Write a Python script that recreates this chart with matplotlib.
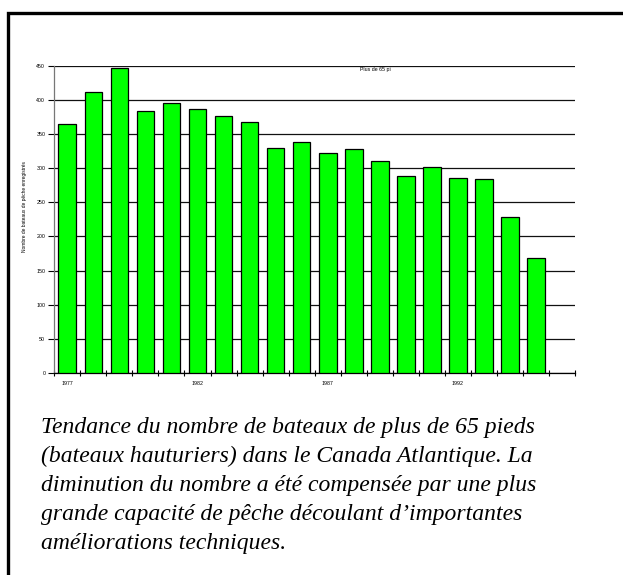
import matplotlib.pyplot as plt
from matplotlib.patches import Rectangle
from matplotlib.ticker import FixedLocator

# --- data ---
years = list(range(1977, 1997))
boats = [365, 411, 447, 384, 395, 386, 377, 367, 330, 338,
         322, 328, 310, 289, 302, 285, 284, 228, 168, None]
tick_years = [1977, 1982, 1987, 1992]
y_ticks = [0, 50, 100, 150, 200, 250, 300, 350, 400, 450]

caption = ("Tendance du nombre de bateaux de plus de 65 pieds\n"
           "(bateaux hauturiers) dans le Canada Atlantique. La\n"
           "diminution du nombre a été compensée par une plus\n"
           "grande capacité de pêche découlant d\u2019importantes\n"
           "améliorations techniques.")

W, H = 623, 575
fig = plt.figure(figsize=(W / 100, H / 100), dpi=100)

# outer frame (runs off right and bottom edges)
fig.patches.append(Rectangle((8 / W, -0.1), 1.2, 1 - 13 / H + 0.1,
                             transform=fig.transFigure, fill=False,
                             edgecolor='black', linewidth=2.4))

ax = fig.add_axes([54.3 / W, 1 - 373 / H, (575 - 54.3) / W, (373 - 65.7) / H])

xs = [i for i, v in enumerate(boats) if v is not None]
vals = [v for v in boats if v is not None]
ax.bar(xs, vals, width=0.68, color='#00FF00', edgecolor='black',
       linewidth=0.9, zorder=3)

ax.set_xlim(-0.5, len(years) - 0.5)
ax.set_ylim(0, 450)

ax.set_yticks(y_ticks)
ax.set_yticklabels([str(t) for t in y_ticks])
ax.yaxis.grid(True, color='#111111', linewidth=0.9, zorder=0)
ax.set_axisbelow(True)

ax.set_xticks([years.index(y) for y in tick_years])
ax.set_xticklabels([str(y) for y in tick_years])
ax.xaxis.set_minor_locator(FixedLocator([i - 0.5 for i in range(len(years) + 1)]))
ax.tick_params(axis='x', which='major', length=0, pad=6, labelsize=3.8)
ax.tick_params(axis='x', which='minor', direction='inout', length=5, width=0.8)
ax.tick_params(axis='y', direction='out', length=4, width=0.8, pad=2.5,
               labelsize=3.8)

for s in ['top', 'right']:
    ax.spines[s].set_visible(False)
ax.spines['left'].set_color('#777777')
ax.spines['left'].set_linewidth(0.9)
ax.spines['bottom'].set_linewidth(0.9)

for lab in ax.get_xticklabels() + ax.get_yticklabels():
    lab.set_fontfamily('Liberation Sans')

fig.text(25 / W, 1 - 207 / H, 'Nombre de bateaux de pêche enregistrés',
         rotation=90, ha='center', va='center', fontsize=3.5,
         family='Liberation Sans')
fig.text(375 / W, 1 - 69 / H, 'Plus de 65 pi', ha='center', va='center',
         fontsize=3.8, family='Liberation Sans')

fig.text(41 / W, 1 - 417 / H, caption, ha='left', va='top',
         fontsize=17, family='Liberation Serif', style='italic',
         linespacing=1.5)

fig.savefig('out.png', dpi=100)
